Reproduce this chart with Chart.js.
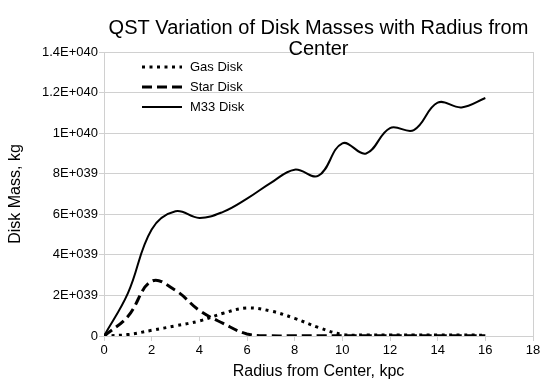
<!DOCTYPE html>
<html><head><meta charset="utf-8">
<script src="https://cdn.jsdelivr.net/npm/chart.js@4"></script>
<style>html,body{margin:0;padding:0;background:#fff}#wrap{width:555px;height:386px}</style>
</head><body><div id="wrap"><canvas id="c" width="555" height="386"></canvas></div>
<script>
const radiusKpc = [0,1,2,3,4,5,6,7,8,9,10,11,12,13,14,15,16];
const gasDisk  = [0,0.07e39,0.28e39,0.5e39,0.74e39,1.12e39,1.38e39,1.23e39,0.87e39,0.42e39,0.08e39,0.05e39,0.05e39,0.05e39,0.05e39,0.05e39,0.04e39];
const starDisk = [0,0.96e39,2.7e39,2.25e39,1.26e39,0.62e39,0.1e39,0.01e39,0.01e39,0.01e39,0.01e39,0.01e39,0.01e39,0.01e39,0.01e39,0.01e39,0.01e39];
const m33Disk  = [0,2.1e39,5.25e39,6.15e39,5.82e39,6.12e39,6.77e39,7.55e39,8.2e39,7.9e39,9.5e39,9.0e39,10.25e39,10.15e39,11.5e39,11.27e39,11.73e39];
const seriesNames = ['Gas Disk','Star Disk','M33 Disk'];
const yTickLabels = ['0','2E+039','4E+039','6E+039','8E+039','1E+040','1.2E+040','1.4E+040'];
const titleLines = ['QST Variation of Disk Masses with Radius from','Center'];

const GRID = '#d0d0d0';
Chart.defaults.font.family = '"Liberation Sans", Arial, sans-serif';
Chart.defaults.color = '#000';

const pts = arr => radiusKpc.map((r,i)=>({x:r,y:arr[i]}));

const insideLegend = {
  id:'insideLegend',
  afterDatasetsDraw(chart){
    const {ctx, chartArea} = chart;
    ctx.save();
    chart.data.datasets.forEach((ds,i)=>{
      const y = chartArea.top + 15 + i*20;
      const x0 = chartArea.left + 38;
      ctx.beginPath();
      ctx.setLineDash(ds.borderDash || []);
      ctx.lineWidth = ds.borderWidth;
      ctx.strokeStyle = ds.borderColor;
      ctx.moveTo(x0,y); ctx.lineTo(x0+40,y); ctx.stroke();
      ctx.setLineDash([]);
      ctx.font = '13px "Liberation Sans", Arial, sans-serif';
      ctx.fillStyle = '#000';
      ctx.textBaseline = 'middle';
      ctx.fillText(ds.label, x0+48, y);
    });
    ctx.restore();
  }
};

new Chart(document.getElementById('c'), {
  type:'line',
  data:{datasets:[
    {label:seriesNames[0], data:pts(gasDisk), borderColor:'#000', borderWidth:3, borderDash:[3,4.5], pointRadius:0, tension:0.4, fill:false},
    {label:seriesNames[1], data:pts(starDisk), borderColor:'#000', borderWidth:3, borderDash:[10,5], pointRadius:0, tension:0.4, fill:false},
    {label:seriesNames[2], data:pts(m33Disk), borderColor:'#000', borderWidth:2, pointRadius:0, tension:0.4, fill:false}
  ]},
  options:{
    responsive:false, animation:false, devicePixelRatio:1,
    layout:{padding:{left:0,right:22,top:0,bottom:0}},
    plugins:{
      legend:{display:false}, tooltip:{enabled:false},
      title:{display:true, text:titleLines, fullSize:false, color:'#000',
        font:{size:20, weight:'normal', lineHeight:1.05}, padding:{top:18,bottom:-8}}
    },
    scales:{
      x:{type:'linear', min:0, max:18,
        ticks:{stepSize:2, font:{size:13}, color:'#000', padding:2},
        grid:{drawOnChartArea:true, color:c=>(c.tick && c.tick.value===18)?GRID:'rgba(0,0,0,0)', tickColor:GRID, tickLength:5},
        border:{display:true, color:GRID},
        title:{display:true, text:'Radius from Center, kpc', font:{size:16}, color:'#000', padding:{top:0,bottom:5}},
        afterFit:s=>{s.height=50;}
      },
      y:{min:0, max:1.4e40,
        ticks:{stepSize:2e39, font:{size:13}, color:'#000', padding:1, callback:(v,i)=>yTickLabels[i]},
        grid:{color:GRID, tickColor:GRID, tickLength:5},
        border:{display:true, color:GRID},
        title:{display:true, text:'Disk Mass, kg', font:{size:16}, color:'#000', padding:{top:6,bottom:0}},
        afterFit:s=>{s.width=104;}
      }
    }
  },
  plugins:[insideLegend]
});
</script></body></html>
